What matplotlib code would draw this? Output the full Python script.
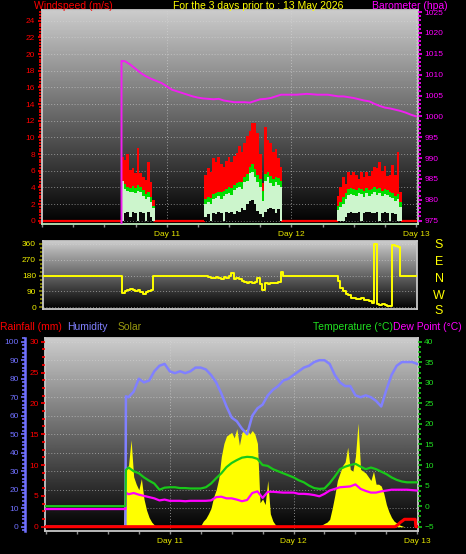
import numpy as np
import matplotlib
matplotlib.use('Agg')
import matplotlib.pyplot as plt
from matplotlib.ticker import MultipleLocator, AutoMinorLocator, FixedLocator, NullFormatter

plt.rcParams['font.family'] = ['Liberation Sans', 'DejaVu Sans']

# ---- data (hours since start of Day 10) ----
day_ticks = [24, 48, 72]
day_labels = ['Day 11', 'Day 12', 'Day 13']

# wind, half-hourly, only where the station reported wind
wind_starts = [15.5, 31.5, 57.0]
gust_1 = [7.7, 7.3, 8.0, 6.1, 6.3, 5.7, 8.7, 5.7, 5.3, 4.9, 7.1, 4.7, 2.5]
avg_1 = [4.5, 4.4, 4.1, 3.9, 4.2, 3.9, 4.3, 4.0, 3.7, 3.2, 3.4, 2.8, 1.8]
speed_1 = [4.8, 3.8, 3.6, 3.4, 3.5, 3.3, 3.6, 3.4, 3.0, 2.6, 2.8, 2.3, 1.5]
lull_1 = [0.0, 0.9, 1.0, 0.5, 1.0, 0.9, 0.0, 1.0, 0.9, 0.0, 1.0, 0.4, 0.0]

gust_2 = [5.5, 6.3, 5.8, 7.5, 7.0, 7.6, 6.8, 6.5, 7.2, 7.6, 7.0, 7.8, 8.1, 9.0, 8.2,
          9.3, 10.2, 10.8, 11.7, 11.7, 10.5, 8.0, 4.5, 11.2, 9.7, 9.3, 8.2, 8.6, 7.5, 6.5]
avg_2 = [2.6, 2.8, 2.7, 3.2, 3.3, 3.5, 3.4, 3.6, 3.8, 4.0, 3.9, 4.3, 4.5, 4.7, 4.6,
         5.3, 5.6, 6.4, 6.8, 6.2, 5.5, 5.0, 3.6, 5.6, 5.9, 5.4, 5.0, 5.3, 5.1, 4.8]
speed_2 = [2.0, 2.3, 2.0, 2.6, 2.7, 3.0, 2.6, 3.0, 3.2, 3.3, 3.1, 3.7, 3.9, 4.0, 3.8,
           4.6, 4.8, 5.7, 5.9, 5.3, 4.7, 4.0, 2.4, 4.8, 5.2, 4.5, 4.2, 4.6, 4.3, 4.0]
lull_2 = [0.5, 0.8, 0.0, 0.9, 0.8, 1.0, 0.9, 0.0, 1.0, 0.9, 1.1, 0.8, 1.2, 1.0, 1.5,
          1.3, 2.0, 2.4, 2.5, 2.0, 1.2, 0.8, 0.5, 1.0, 1.4, 1.5, 1.4, 0.9, 1.4, 0.0]

gust_3 = [3.0, 4.0, 5.2, 4.4, 5.8, 5.5, 5.8, 5.5, 5.0, 5.8, 5.3, 5.9, 5.4, 6.0, 6.5,
          6.3, 7.0, 6.0, 6.6, 5.4, 5.5, 6.7, 5.5, 8.3, 3.5]
avg_3 = [1.8, 2.2, 2.8, 3.3, 3.8, 3.9, 3.8, 3.7, 3.9, 3.8, 3.6, 3.9, 3.7, 3.8, 4.0,
         3.8, 3.9, 3.6, 3.8, 3.7, 3.4, 3.3, 3.0, 3.2, 2.2]
speed_3 = [1.3, 1.6, 2.0, 2.6, 3.1, 3.2, 3.1, 3.0, 3.3, 3.2, 2.9, 3.3, 3.0, 3.2, 3.4,
           3.1, 3.3, 3.0, 3.2, 3.1, 2.8, 2.7, 2.4, 2.6, 1.6]
lull_3 = [0.0, 0.0, 0.0, 0.5, 0.9, 1.0, 0.9, 0.9, 1.0, 0.0, 0.9, 1.0, 1.0, 0.9, 0.9,
          1.0, 0.0, 0.9, 1.0, 0.9, 0.0, 0.9, 0.8, 0.0, 0.0]

# barometer, hourly
baro_hours = [15.3, 15.3] + list(range(16, 73))
baro_hpa = [0, 1013.3, 1013.2, 1012.4, 1011.4, 1010.4, 1009.6, 1009.0, 1008.5, 1008.0, 1007.2,
            1006.4, 1006.0, 1005.6, 1005.2, 1004.8, 1004.5, 1004.3, 1004.2, 1004.1, 1004.2,
            1003.8, 1003.6, 1003.4, 1003.4, 1003.4, 1003.3, 1003.7, 1004.1, 1004.2, 1004.4,
            1004.8, 1005.2, 1005.2, 1005.2, 1005.2, 1005.3, 1005.4, 1005.3, 1005.2, 1005.2,
            1005.2, 1005.0, 1004.8, 1004.8, 1004.6, 1004.4, 1004.1, 1003.8, 1003.6, 1003.0,
            1002.5, 1002.1, 1001.9, 1001.6, 1001.3, 1000.9, 1000.4, 1000.0]

# wind direction, half-hourly; 180 when calm
dir_calm = 180
dir_starts = [15.5, 31.5, 57.0]
dir_1 = [80, 90, 100, 105, 98, 92, 100, 88, 75, 85, 95, 100]
dir_2 = [175, 170, 168, 165, 172, 168, 160, 170, 165, 175, 195, 160, 165, 158, 150,
         145, 140, 145, 138, 145, 165, 130, 100, 140, 135, 140, 138, 140, 142, 200]
dir_3 = [150, 110, 90, 75, 70, 55, 50, 48, 45, 50, 42, 40, 35, 25, 360, 20, 15, 18,
         12, 10, 8, 355, 350, 345]
compass = ['S', 'E', 'N', 'W', 'S']

# lower panel, hourly
th_hours = [0, 15.4, 15.5] + list(range(16, 73))
humidity = [0, 0, 70.5, 70, 73, 80, 78, 79, 84, 87, 88, 84, 83, 84, 83, 84, 86, 86, 85, 82,
            78, 72, 65, 59, 57, 53, 50, 60, 64, 66, 71, 74, 76, 79, 80, 82, 84, 86, 87, 89,
            90, 90, 88, 82, 78, 76, 76, 71, 70, 71, 70, 68, 65, 74, 82, 87, 89, 89, 89, 88]
temperature = [0.0, 0.0, 8.8, 9.4, 8.5, 8.0, 7.0, 6.2, 5.5, 4.0, 4.5, 4.6, 4.6, 4.4, 4.4,
               4.3, 4.3, 4.3, 4.6, 5.5, 6.8, 8.0, 9.5, 10.5, 11.2, 11.8, 12.0, 11.9, 11.5,
               10.0, 9.8, 9.0, 8.5, 8.0, 7.5, 7.0, 6.3, 5.8, 5.0, 4.4, 4.2, 4.3, 5.6, 7.2,
               9.0, 9.6, 10.0, 10.3, 9.6, 9.0, 9.4, 9.0, 8.4, 7.8, 7.0, 6.4, 6.0, 5.8, 5.8, 5.8]
dew_point = [-0.7, -0.7, 3.3, 2.9, 3.2, 2.8, 2.5, 2.2, 1.9, 1.4, 1.6, 1.3, 1.3, 1.3, 1.2,
             1.3, 1.3, 1.3, 1.3, 1.4, 2.2, 2.3, 1.9, 1.9, 1.6, 1.2, 1.5, 3.2, 3.6, 2.0,
             3.5, 3.5, 3.4, 3.3, 3.3, 3.3, 3.0, 3.0, 2.9, 2.7, 2.4, 3.0, 3.8, 4.2, 4.6,
             4.7, 4.8, 5.3, 4.2, 3.7, 3.3, 3.3, 3.6, 3.8, 4.0, 4.0, 4.0, 4.0, 3.9, 3.8]

# solar, half-hourly (W/m2)
solar_starts = [15.5, 30.0, 53.0]
solar_1 = [320, 330, 470, 270, 230, 200, 260, 150, 90, 50, 25, 10, 0]
solar_2 = [5, 30, 45, 70, 100, 160, 200, 260, 380, 450, 490, 500, 510, 480, 530, 440,
           510, 520, 530, 500, 520, 500, 450, 130, 150, 120, 250, 70, 30, 10, 0]
solar_3 = [5, 10, 18, 25, 40, 100, 170, 250, 290, 330, 350, 430, 310, 300, 380, 560, 310,
           300, 290, 270, 250, 300, 230, 230, 220, 180, 120, 80, 50, 30, 20, 10, 5, 0]

rain_hours = [0, 67.7, 68.2, 68.7, 69.2, 69.5, 71.6, 71.7, 72]
rain_mm = [0, 0, 0.3, 0.7, 1.0, 1.2, 1.2, 0, 0]


def on_grid(grid, base, starts, segments):
    arr = np.full(len(grid), base, dtype=float)
    for start, vals in zip(starts, segments):
        i = int(np.searchsorted(grid, start))
        arr[i:i + len(vals)] = vals
    return arr


half = np.arange(0, 72.5, 0.5)
gust = on_grid(half, 0, wind_starts, [gust_1, gust_2, gust_3])
avg = on_grid(half, 0, wind_starts, [avg_1, avg_2, avg_3])
speed = on_grid(half, 0, wind_starts, [speed_1, speed_2, speed_3])
lull = on_grid(half, 0, wind_starts, [lull_1, lull_2, lull_3])
direction = on_grid(half, dir_calm, dir_starts, [dir_1, dir_2, dir_3])
solar = on_grid(half, 0, solar_starts, [solar_1, solar_2, solar_3])

# ---- figure ----
W, H = 466, 554
fig = plt.figure(figsize=(W / 100, H / 100), dpi=100, facecolor='black')


def rect(l, t, r, b):
    return [l / W, 1 - b / H, (r - l) / W, (b - t) / H]


def backdrop(ax):
    grad = np.linspace(0.80, 0.0, 256).reshape(-1, 1)
    ax.imshow(grad, cmap='gray', vmin=0, vmax=1, aspect='auto', extent=[0, 1, 0, 1],
              transform=ax.transAxes, zorder=0, interpolation='bilinear')
    ax.set_facecolor('black')
    ax.set_axisbelow(True)


def frame(ax, color='#c8c8c8'):
    for s in ax.spines.values():
        s.set_color(color)
        s.set_linewidth(1.3)


def hide_spines(ax):
    for s in ax.spines.values():
        s.set_visible(False)


def day_axis(ax):
    ax.xaxis.set_major_locator(FixedLocator(day_ticks))
    ax.set_xticklabels(day_labels)
    ax.xaxis.set_minor_locator(MultipleLocator(6))
    ax.tick_params(axis='x', which='both', colors='#909090', length=2.5, width=1)
    ax.tick_params(axis='x', which='major', labelcolor='#e6e600', labelsize=6, pad=2.5)
    ax.grid(axis='x', which='major', color='#d8d8d8', ls=(0, (1, 2)), lw=0.7, alpha=0.6)


grid_kw = dict(color='#d8d8d8', ls=(0, (1, 2)), lw=0.7, alpha=0.55)

# top panel: wind speed + barometer
axW = fig.add_axes(rect(42, 10, 418, 224))
backdrop(axW)
axW.fill_between(half, 0, gust, step='mid', color='#ff0000', lw=0, zorder=2)
axW.step(half, np.ma.masked_where(gust > 0, gust), where='mid', color='#ff0000', lw=1.6, zorder=2)
axW.fill_between(half, 0, avg, step='mid', color='#00dd00', lw=0, zorder=3)
axW.fill_between(half, 0, speed, step='mid', color='#ccf5cc', lw=0, zorder=4)
axW.fill_between(half, 0, lull, step='mid', color='#080808', lw=0, zorder=5)
axW.set_xlim(0, 72.36)
axW.set_ylim(-0.4, 25.3)
frame(axW)
axW.spines['bottom'].set_color('#b8e8b8')
axW.yaxis.set_major_locator(MultipleLocator(2))
axW.yaxis.set_minor_locator(AutoMinorLocator(6))
axW.tick_params(axis='y', which='both', colors='#ff0000', labelsize=6, length=3, width=1.2, pad=2)
axW.tick_params(axis='y', which='minor', length=2)
axW.grid(axis='y', which='major', **grid_kw)
day_axis(axW)

axP = axW.twinx()
hide_spines(axP)
axP.plot(baro_hours, baro_hpa, color='#f020f0', lw=1.4, zorder=6)
axP.set_ylim(974.2, 1025.5)
axP.yaxis.set_major_locator(MultipleLocator(5))
axP.yaxis.set_minor_locator(MultipleLocator(1))
axP.tick_params(axis='y', which='both', colors='#ff00ff', labelsize=6, length=3, width=1.2, pad=1.5)
axP.tick_params(axis='y', which='minor', length=2)

# middle panel: wind direction
axD = fig.add_axes(rect(43, 241, 417, 309))
backdrop(axD)
axD.step(half, direction, where='mid', color='#ffff00', lw=1.4, zorder=3)
axD.set_xlim(0, 72)
axD.set_ylim(-9.7, 376.7)
frame(axD)
axD.set_xticks([])
axD.yaxis.set_major_locator(MultipleLocator(90))
axD.yaxis.set_minor_locator(MultipleLocator(22.5))
axD.tick_params(axis='y', which='both', colors='#8c8c00', labelcolor='#f0f000',
                labelsize=6, length=3, width=1.2, pad=2)
axD.tick_params(axis='y', which='minor', length=2)
axD.grid(axis='y', which='major', **grid_kw)
for name, y in zip(compass, [245, 262, 279, 296, 311]):
    fig.text(439 / W, 1 - y / H, name, color='#ffff00', fontsize=9, ha='center', va='center')

# bottom panel: solar, humidity, temperature, dew point, rainfall
axS = fig.add_axes(rect(45, 338, 418, 531))
backdrop(axS)
axS.fill_between(half, 0, solar, color='#ffff00', lw=0, zorder=2)
axS.set_xlim(-0.19, 72.13)
axS.set_ylim(-23, 1020)
frame(axS)
axS.yaxis.set_major_locator(MultipleLocator(100))
axS.yaxis.set_major_formatter(NullFormatter())
axS.tick_params(axis='y', which='both', length=0)
axS.grid(axis='y', which='major', **grid_kw)
day_axis(axS)

axH = axS.twinx()
hide_spines(axH)
axH.plot(th_hours, humidity, color='#8080ff', lw=1.8, zorder=3)
axH.set_ylim(-2.3, 102)
axH.yaxis.tick_left()
axH.spines['left'].set_visible(True)
axH.spines['left'].set_position(('outward', 14.4))
axH.spines['left'].set_color('#7070ff')
axH.spines['left'].set_linewidth(1.8)
axH.yaxis.set_major_locator(MultipleLocator(10))
axH.yaxis.set_minor_locator(MultipleLocator(2))
axH.tick_params(axis='y', which='both', colors='#7070ff', labelsize=6, length=3, width=1.2, pad=1.5)
axH.tick_params(axis='y', which='minor', length=2)

axT = axS.twinx()
hide_spines(axT)
axT.plot(th_hours, dew_point, color='#ff00ff', lw=1.6, zorder=3)
axT.plot(th_hours, temperature, color='#19c819', lw=1.6, zorder=4)
axT.set_ylim(-6.04, 40.9)
axT.yaxis.set_major_locator(MultipleLocator(5))
axT.yaxis.set_minor_locator(AutoMinorLocator(4))
axT.tick_params(axis='y', which='both', colors='#19c819', labelcolor='#20e020',
                labelsize=6, length=3, width=1.2, pad=1.5)
axT.tick_params(axis='y', which='minor', length=2)

axR = axS.twinx()
hide_spines(axR)
axR.plot(rain_hours, rain_mm, color='#ff0000', lw=2.2, zorder=5)
axR.set_ylim(-0.7, 30.6)
axR.yaxis.tick_left()
axR.yaxis.set_major_locator(MultipleLocator(5))
axR.yaxis.set_minor_locator(AutoMinorLocator(4))
axR.tick_params(axis='y', which='both', colors='#ff0000', labelsize=6, length=3, width=1.2, pad=1.5)
axR.tick_params(axis='y', which='minor', length=2)

# header texts
hdr = dict(fontsize=7.5, va='center')
fig.text(34 / W, 1 - 6 / H, 'Windspeed (m/s)', color='#ff0000', **hdr)
fig.text(258 / W, 1 - 6 / H, 'For the 3 days prior to : 13 May 2026', color='#ffff00', ha='center', **hdr)
fig.text(372 / W, 1 - 6 / H, 'Barometer (hpa)', color='#ff00ff', **hdr)
fig.text(0, 1 - 327 / H, 'Rainfall (mm)', color='#ff0000', **hdr)
fig.text(67 / W, 1 - 327 / H, 'Humidity', color='#8080ff', **hdr)
fig.text(118 / W, 1 - 327 / H, 'Solar', color='#9a9a10', **hdr)
fig.text(313 / W, 1 - 327 / H, 'Temperature (\u00b0C)', color='#20e020', **hdr)
fig.text(393 / W, 1 - 327 / H, 'Dew Point (\u00b0C)', color='#ff00ff', **hdr)

fig.savefig('out.png', dpi=100, facecolor='black')
